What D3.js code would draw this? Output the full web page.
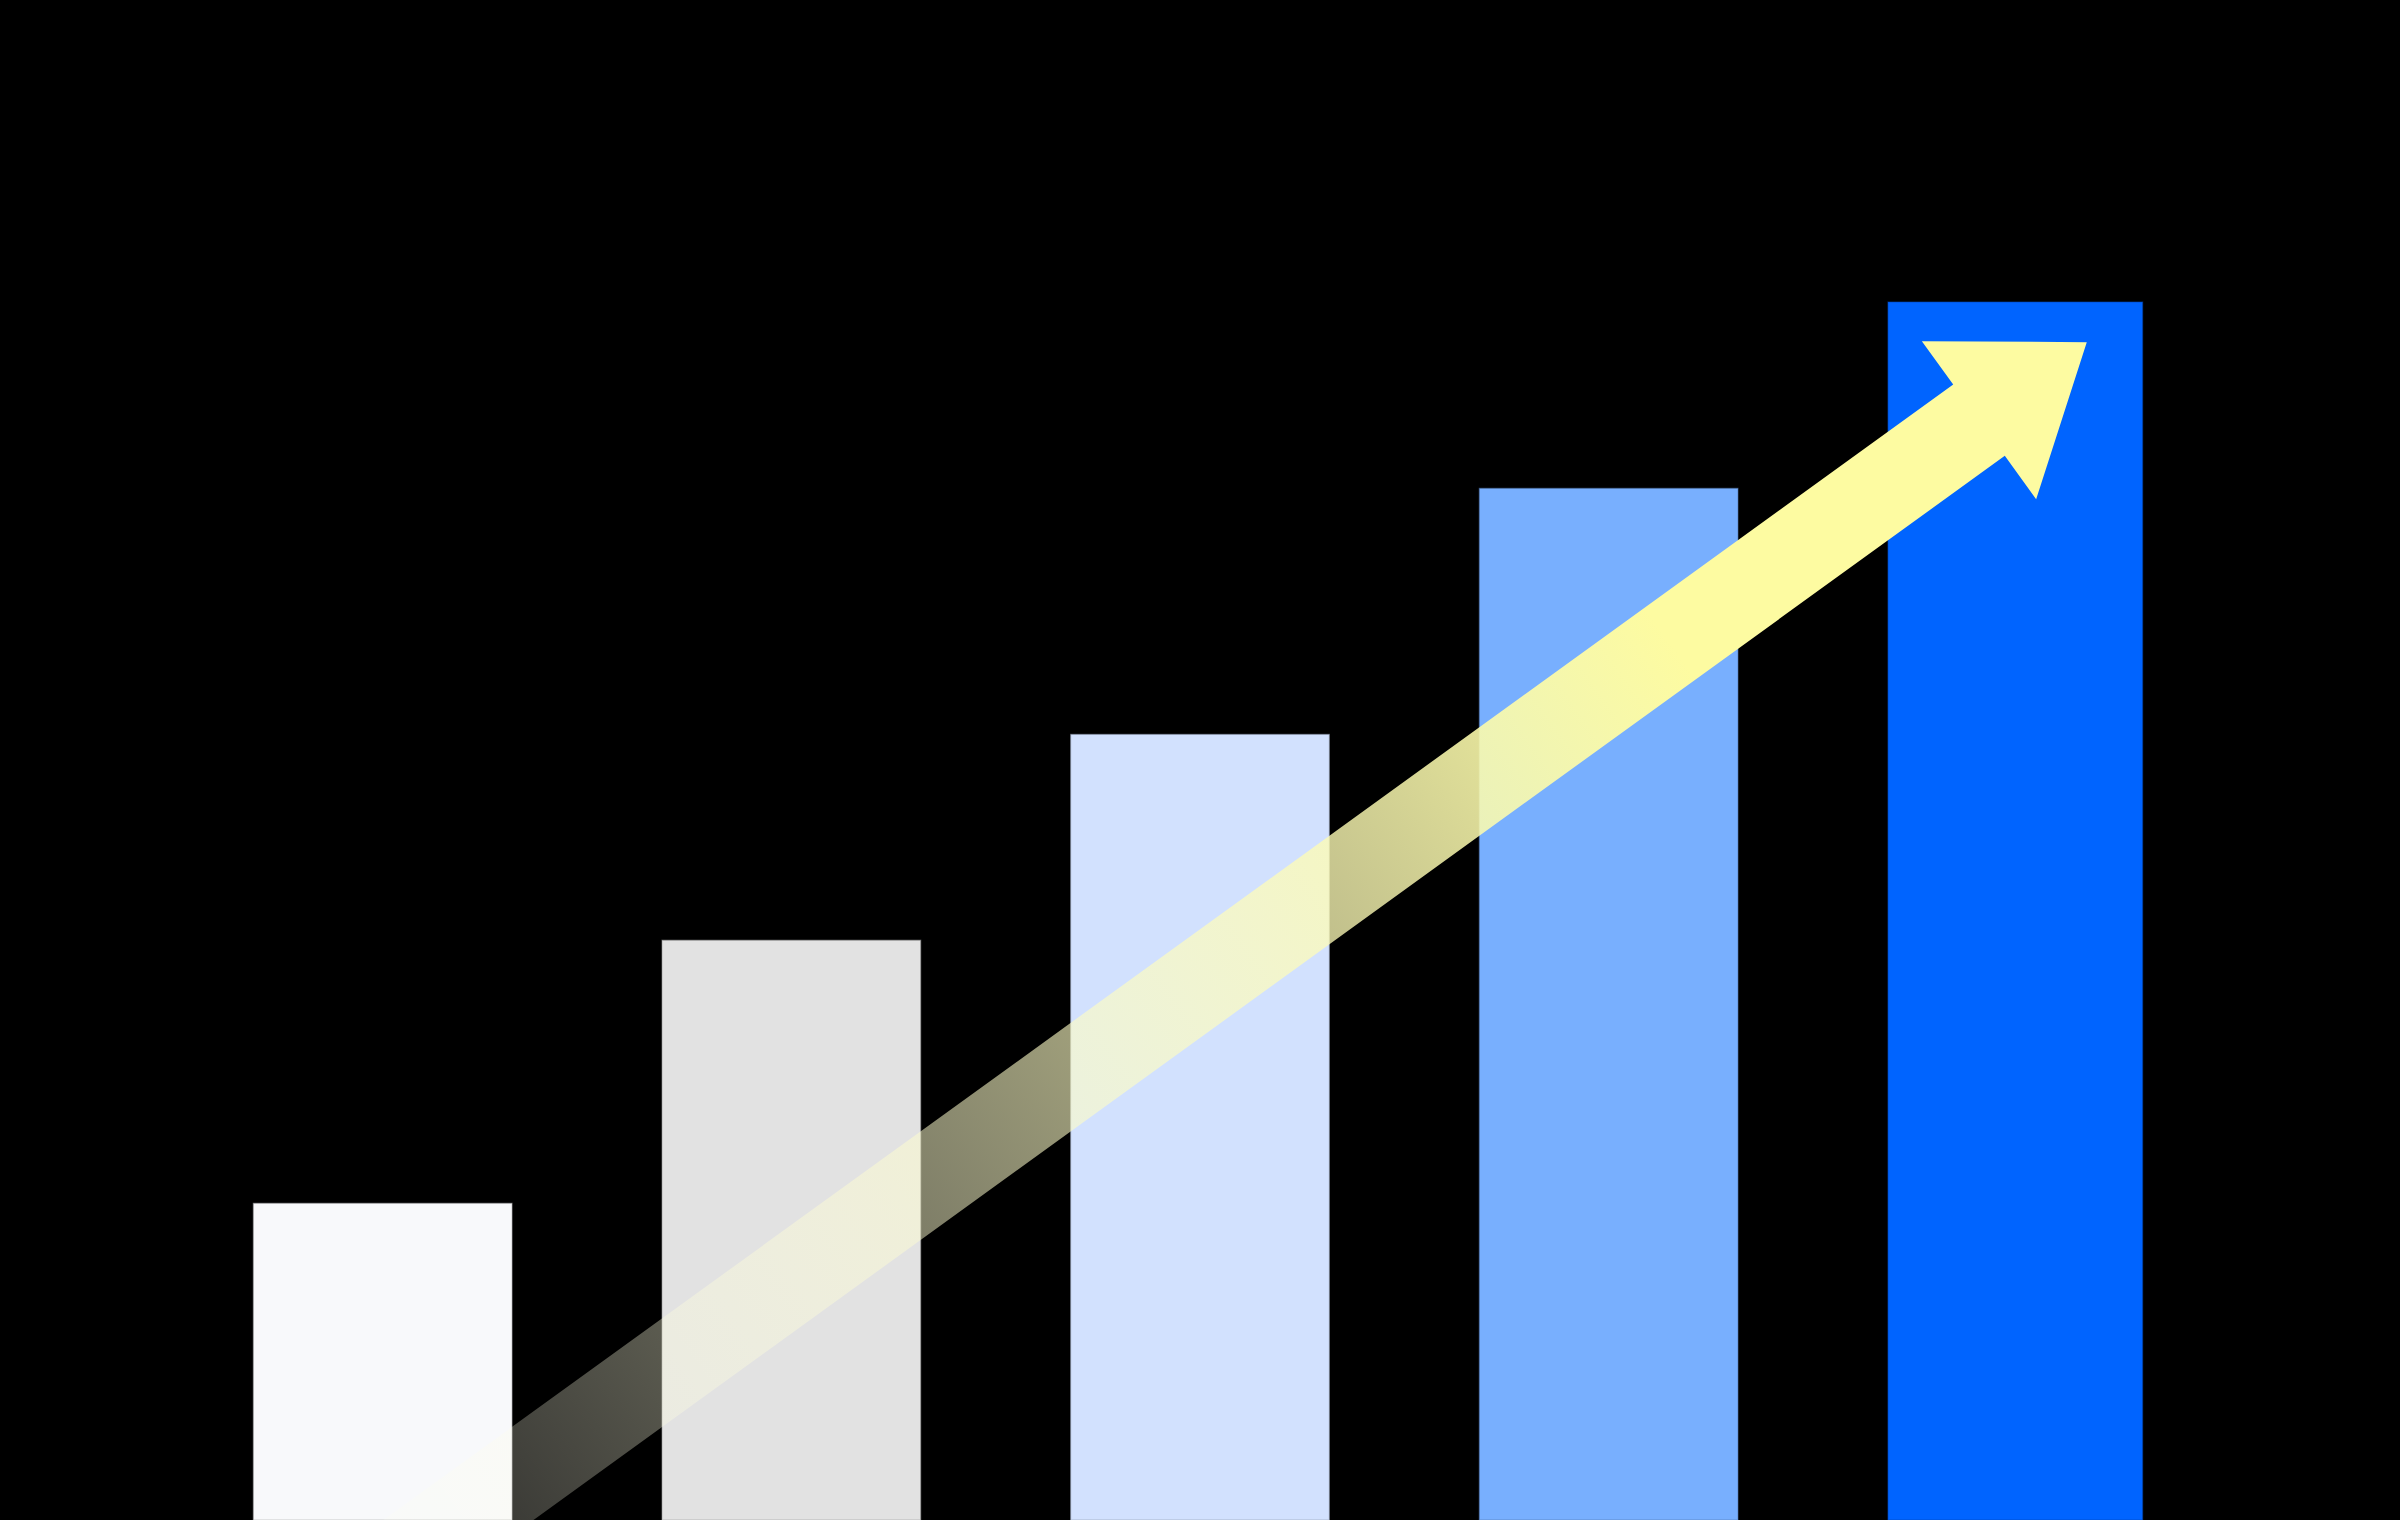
<!DOCTYPE html>
<html>
  <head>
    <meta charset="utf-8">
    <title>growth bars</title>
    <style>
      html, body { margin: 0; padding: 0; background: #000; }
      svg { display: block; }
    </style>
  </head>
  <body>
    <script src="https://cdn.jsdelivr.net/npm/d3@7/dist/d3.min.js" charset="utf-8"></script>
    <script type="text/javascript">
      // data
      var categories = ["A", "B", "C", "D", "E"];
      var values = [26, 47.6, 64.5, 84.7, 100];
      var barColors = ["#f8f9fb", "#e2e2e2", "#d2e1fe", "#78affe", "#0064ff"];
      // trend arrow, in data units: [category index, value] for tail and tip
      var trendIndex = [-0.61, 4.17];
      var trendValue = [-19.3, 96.7];

      var width = 2400;
      var height = 1520;

      var svg = d3.select("body")
                  .append("svg")
                  .attr("width", width)
                  .attr("height", height);

      svg.append("rect")
         .attr("width", width)
         .attr("height", height)
         .attr("fill", "#000");

      var x = d3.scaleBand()
                .domain(categories)
                .range([0, width])
                .paddingInner(0.367)
                .paddingOuter(0.62);

      var y = d3.scaleLinear()
                .domain([0, 100])
                .range([height, 302]);

      // index -> pixel, through the band centres
      var xi = d3.scaleLinear()
                 .domain([0, categories.length - 1])
                 .range([x(categories[0]) + x.bandwidth() / 2,
                         x(categories[categories.length - 1]) + x.bandwidth() / 2]);

      svg.selectAll("rect.bar")
         .data(values)
         .enter()
         .append("rect")
         .attr("class", "bar")
         .attr("x", function(d, i) { return x(categories[i]); })
         .attr("y", function(d) { return y(d); })
         .attr("width", function(d, i) { return i == values.length - 1 ? x.bandwidth() - 4 : x.bandwidth(); })
         .attr("height", function(d) { return y(0) - y(d); })
         .attr("fill", function(d, i) { return barColors[i]; })
         .attr("stroke", function(d, i) { return d3.color(barColors[i]).darker(1); })
         .attr("stroke-opacity", 0.5)
         .attr("stroke-width", 1.2);

      // arrow
      var x0 = xi(trendIndex[0]), y0 = y(trendValue[0]);
      var x1 = xi(trendIndex[1]), y1 = y(trendValue[1]);
      var len = Math.hypot(x1 - x0, y1 - y0);
      var ux = (x1 - x0) / len, uy = (y1 - y0) / len;
      var px = -uy, py = ux;
      var shaftW = 88, headW = 195, headLen = 133;
      var bx = x1 - ux * headLen, by = y1 - uy * headLen;

      function pt(cx, cy, off) { return [cx + px * off, cy + py * off]; }
      var arrowPts = [
        pt(x0, y0, -shaftW / 2),
        pt(bx, by, -shaftW / 2),
        pt(bx, by, -headW / 2),
        [x1, y1],
        pt(bx, by, headW / 2),
        pt(bx, by, shaftW / 2),
        pt(x0, y0, shaftW / 2)
      ];

      // fade from transparent white at the tail to solid yellow
      var fadeEnd = 0.787;
      var mix = d3.interpolateRgb("#ffffff", "#fdfba1");
      var grad = svg.append("defs")
                    .append("linearGradient")
                    .attr("id", "arrowFade")
                    .attr("gradientUnits", "userSpaceOnUse")
                    .attr("x1", x0).attr("y1", y0)
                    .attr("x2", x1).attr("y2", y1);
      d3.range(0, 1.0001, 0.125).forEach(function(f) {
        grad.append("stop")
            .attr("offset", f * fadeEnd)
            .attr("stop-color", mix(f))
            .attr("stop-opacity", f);
      });
      grad.append("stop").attr("offset", 1).attr("stop-color", "#fdfba1").attr("stop-opacity", 1);

      svg.append("path")
         .attr("d", d3.line()(arrowPts) + "Z")
         .attr("fill", "url(#arrowFade)");
    </script>
  </body>
</html>
